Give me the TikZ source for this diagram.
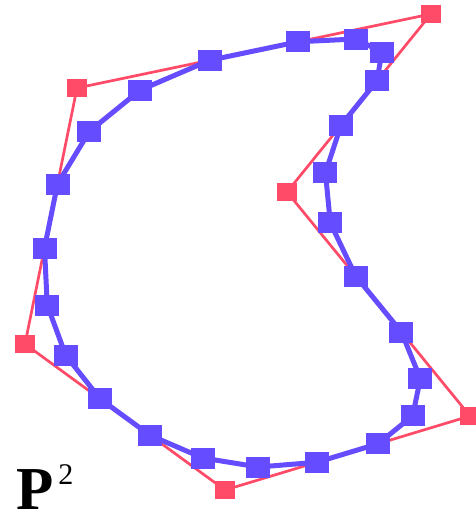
\documentclass[tikz,border=0pt]{standalone}
\usepackage{fontspec}
\usepackage{tikz}
\newfontfamily\lblfont{Liberation Serif}
\definecolor{myred}{RGB}{255,74,104}
\definecolor{myblue}{RGB}{101,76,255}

\begin{document}
\begin{tikzpicture}[x=1pt, y=-1pt, line join=round,
    ctrl/.style={fill=myred, minimum width=20pt, minimum height=18pt, inner sep=0pt},
    crv/.style={fill=myblue, minimum width=24pt, minimum height=21pt, inner sep=0pt}]
  \useasboundingbox (0,0) rectangle (476,514);
  % control polygon
  \node[ctrl] (r1) at (77,88) {};
  \node[ctrl] (r2) at (431,14) {};
  \node[ctrl] (r3) at (287,192) {};
  \node[ctrl] (r4) at (470,416) {};
  \node[ctrl] (r5) at (225,490) {};
  \node[ctrl] (r6) at (25,344) {};
  \draw[myred, line width=2.7pt] (r1.center) -- (r2.center) -- (r3.center)
    -- (r4.center) -- (r5.center) -- (r6.center) -- cycle;
  % corner cutting, two steps
  \node[crv] (b1) at (209.75,60.25) {};
  \node[crv] (b2) at (298.25,41.75) {};
  \node[crv] (b3) at (355.63,39) {};
  \node[crv] (b4) at (381.88,52) {};
  \node[crv] (b5) at (377,80.75) {};
  \node[crv] (b6) at (341,125.25) {};
  \node[crv] (b7) at (325.44,172.63) {};
  \node[crv] (b8) at (330.31,222.88) {};
  \node[crv] (b9) at (355.63,276) {};
  \node[crv] (b10) at (401.38,332) {};
  \node[crv] (b11) at (420.38,378.63) {};
  \node[crv] (b12) at (412.63,415.88) {};
  \node[crv] (b13) at (378.13,443.75) {};
  \node[crv] (b14) at (316.88,462.25) {};
  \node[crv] (b15) at (258.44,467) {};
  \node[crv] (b16) at (202.81,458) {};
  \node[crv] (b17) at (150,435.25) {};
  \node[crv] (b18) at (100,398.75) {};
  \node[crv] (b19) at (65.75,355.38) {};
  \node[crv] (b20) at (47.25,305.13) {};
  \node[crv] (b21) at (44.5,248) {};
  \node[crv] (b22) at (57.5,184) {};
  \node[crv] (b23) at (89.38,131.38) {};
  \node[crv] (b24) at (140.13,90.13) {};
  \draw[myblue, line width=5pt] (b1.center) -- (b2.center) -- (b3.center)
    -- (b4.center) -- (b5.center) -- (b6.center) -- (b7.center) -- (b8.center)
    -- (b9.center) -- (b10.center) -- (b11.center) -- (b12.center)
    -- (b13.center) -- (b14.center) -- (b15.center) -- (b16.center)
    -- (b17.center) -- (b18.center) -- (b19.center) -- (b20.center)
    -- (b21.center) -- (b22.center) -- (b23.center) -- (b24.center) -- cycle;
  \node[anchor=base west, inner sep=0pt] (lbl) at (16,509)
    {\lblfont\fontsize{61}{61}\selectfont\bfseries P\kern5pt\raisebox{25pt}{\fontsize{30}{30}\selectfont\mdseries 2}};
\end{tikzpicture}
\end{document}
